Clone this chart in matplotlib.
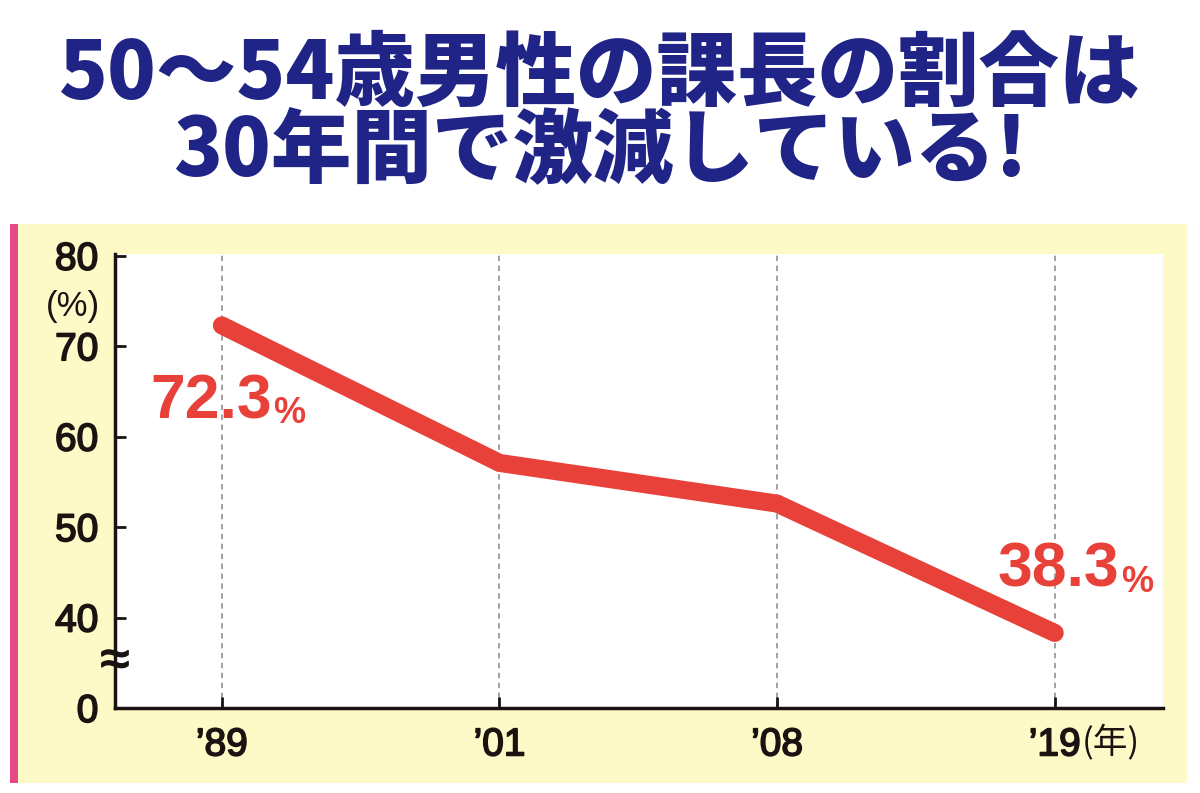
import matplotlib.pyplot as plt
import matplotlib.patheffects as pe
from matplotlib.patches import Rectangle

# データ
years = ["’89", "’01", "’08", "’19"]
ratio = [72.3, 57.1, 52.6, 38.3]
ytick_vals = [30, 40, 50, 60, 70, 80]
ytick_labels = ["0", "40", "50", "60", "70", "80"]

navy = "#1f2486"
red = "#e8413a"
ink = "#1a1311"

plt.rcParams['font.family'] = ['Liberation Sans', 'Noto Sans CJK JP', 'DejaVu Sans']

fig = plt.figure(figsize=(12, 7.93), dpi=100)
fig.patch.set_facecolor("white")

# 背景パネル
fig.patches.append(Rectangle((10 / 1200, 10 / 793), 1177 / 1200, 559 / 793,
                             transform=fig.transFigure, facecolor="#fefac8",
                             edgecolor="none", zorder=-10))
fig.patches.append(Rectangle((10 / 1200, 10 / 793), 8 / 1200, 559 / 793,
                             transform=fig.transFigure, facecolor="#e64a85",
                             edgecolor="none", zorder=-9))

# タイトル
fig.text(0.5, 1 - 75 / 793, "50〜54歳男性の課長の割合は", ha="center", va="center",
         fontsize=58, color=navy, fontweight="heavy",
         family=['Noto Sans CJK JP', 'DejaVu Sans'])
fig.text(0.5, 1 - 152 / 793, "30年間で激減している!", ha="center", va="center",
         fontsize=58, color=navy, fontweight="heavy",
         family=['Noto Sans CJK JP', 'DejaVu Sans'])

ax = fig.add_axes([115 / 1200, 85 / 793, 1048 / 1200, 454 / 793])
ax.set_facecolor("white")
x = list(range(len(years)))
ax.plot(x, ratio, color=red, linewidth=13, solid_capstyle="round",
        solid_joinstyle="miter", zorder=3)

ax.set_xlim(-0.385, 3.39)
ax.set_ylim(30, 80.2)
for xi in x:
    ax.axvline(xi, color="#9a9a9a", linestyle=(0, (3, 2.5)), linewidth=1.3, zorder=1)

ax.set_yticks(ytick_vals)
ax.set_yticklabels(ytick_labels)
ax.set_xticks(x)
ax.set_xticklabels(years)
ax.tick_params(axis="both", direction="in", length=8, width=2, colors=ink,
               labelsize=28, pad=12)
ax.tick_params(axis="x", pad=14)
thick = [pe.withStroke(linewidth=1.2, foreground=ink)]
for lab in ax.get_xticklabels() + ax.get_yticklabels():
    lab.set_path_effects(thick)
for s in ["top", "right"]:
    ax.spines[s].set_visible(False)
for s in ["left", "bottom"]:
    ax.spines[s].set_linewidth(2.5)
    ax.spines[s].set_color(ink)

# 単位
ax.text(-0.04, 0.885, "(%)", transform=ax.transAxes, ha="center", va="center",
        fontsize=25, color=ink)
ax.text(0.922, -0.077, "(年)", transform=ax.transAxes, ha="left", va="center",
        fontsize=25, color=ink, family=['Noto Sans CJK JP', 'DejaVu Sans'])
ax.text(0, 0.101, "≈", transform=ax.transAxes, ha="center", va="center",
        fontsize=38, color=ink, clip_on=False, zorder=5, path_effects=thick)

# 数値ラベル
t1 = ax.annotate("72.3", (0, ratio[0]), xytext=(-72, -93), textcoords="offset pixels",
                 ha="left", va="baseline", fontsize=45, fontweight="bold", color=red)
ax.annotate("%", xy=(1, 0), xycoords=t1, xytext=(2, 0), textcoords="offset pixels",
            ha="left", va="bottom", fontsize=26, fontweight="bold", color=red)
t2 = ax.annotate("38.3", (3, ratio[3]), xytext=(-57, 46), textcoords="offset pixels",
                 ha="left", va="baseline", fontsize=45, fontweight="bold", color=red)
ax.annotate("%", xy=(1, 0), xycoords=t2, xytext=(2, 0), textcoords="offset pixels",
            ha="left", va="bottom", fontsize=26, fontweight="bold", color=red)

fig.savefig("out.png", dpi=100)
